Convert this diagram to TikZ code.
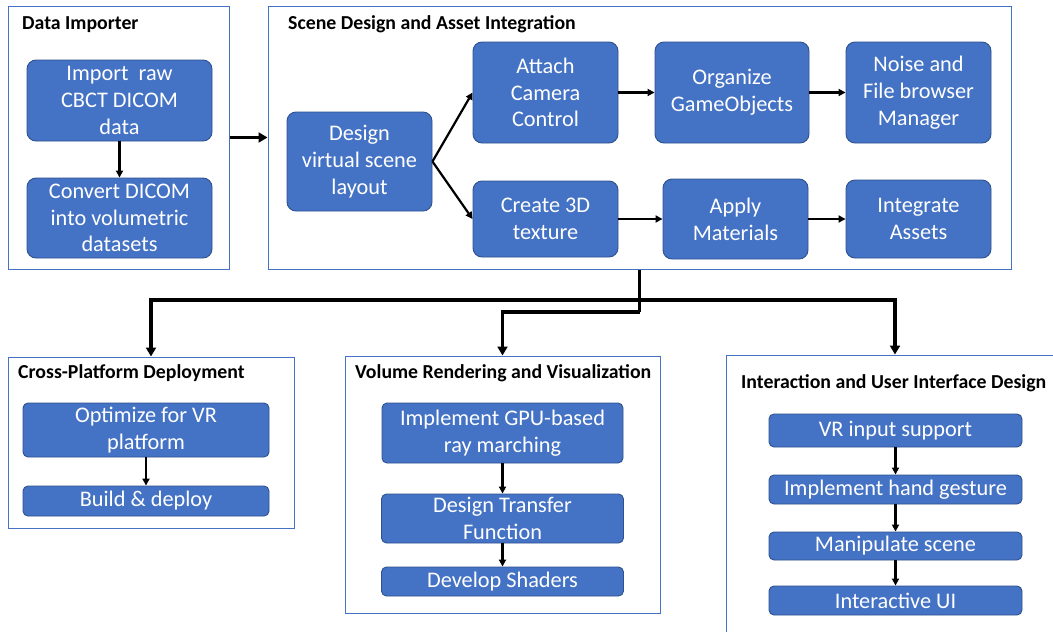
\documentclass[tikz,border=0pt]{standalone}
\usepackage{fontspec}
\setmainfont{Carlito}
\usetikzlibrary{arrows.meta}
\definecolor{boxblue}{HTML}{4472C4}
\definecolor{boxedge}{HTML}{2F528F}
\definecolor{paneledge}{HTML}{4472C4}
\tikzset{
  stepbox/.style={rectangle, rounded corners=9pt, fill=boxblue, draw=boxedge, line width=0.9pt,
    text=white, align=center, inner sep=0pt, font=\fontsize{22.3}{26.7}\selectfont},
  smallbox/.style={stepbox, rounded corners=5pt},
  panel/.style={rectangle, draw=paneledge, line width=1pt, fill=none, inner sep=0pt},
  ptitle/.style={anchor=base west, inner sep=0pt, font=\fontsize{19.8}{23}\selectfont\bfseries},
  arr/.style={line width=2.2pt, -{Triangle[length=7pt,width=7pt]}},
  bus/.style={line width=3.4pt},
  busarr/.style={bus, -{Triangle[length=9pt,width=10pt]}},
}
\begin{document}
\begin{tikzpicture}[x=1pt,y=-1pt]
\clip (0,0) rectangle (1053,632);
\fill[white] (0,0) rectangle (1053,632);

% panels
\node[panel, minimum width=221pt, minimum height=263pt] (pdi) at (118.5,137.5) {};
\node[panel, minimum width=743pt, minimum height=263pt] (psc) at (639.5,137.5) {};
\node[panel, minimum width=286pt, minimum height=171pt] (pcp) at (151,442.5) {};
\node[panel, minimum width=315pt, minimum height=257pt] (pvr) at (502.5,484.5) {};
\node[panel, minimum width=338pt, minimum height=295pt] (pui) at (895,502.5) {};

% titles
\node[ptitle] (tdi) at (22,29.5) {Data Importer};
\node[ptitle] (tsc) at (288,29.5) {Scene Design and Asset Integration};
\node[ptitle] (tcp) at (18,378.5) {Cross-Platform Deployment};
\node[ptitle] (tvr) at (355,378.5) {Volume Rendering and Visualization};
\node[ptitle] (tui) at (741,388.5) {Interaction and User Interface Design};

% Data importer
\node[stepbox, minimum width=185pt, minimum height=81pt] (imp) at (119.5,100.5) {Import\ \ raw\\CBCT DICOM\\data};
\node[stepbox, minimum width=185pt, minimum height=80pt] (conv) at (119.5,218) {Convert DICOM\\into volumetric\\datasets};

% Scene design
\node[stepbox, minimum width=145pt, minimum height=99pt] (design) at (359.5,161.5) {Design\\virtual scene\\layout};
\node[stepbox, minimum width=145pt, minimum height=101pt] (attach) at (545.5,92.5) {Attach\\Camera\\Control};
\node[stepbox, minimum width=154pt, minimum height=101pt] (organize) at (732,92.5) {Organize\\GameObjects};
\node[stepbox, minimum width=145pt, minimum height=101pt] (noise) at (918.5,92.5) {Noise and\\File browser\\Manager};
\node[stepbox, minimum width=145pt, minimum height=76pt] (create) at (545.5,219) {Create 3D\\texture};
\node[stepbox, minimum width=145pt, minimum height=80pt] (apply) at (735.5,219) {Apply\\Materials};
\node[stepbox, minimum width=145pt, minimum height=78pt] (integrate) at (918.5,219) {Integrate\\Assets};

% Cross-platform
\node[smallbox, minimum width=246pt, minimum height=54pt] (optimize) at (146,430) {Optimize for VR\\platform};
\node[smallbox, minimum width=246pt, minimum height=30pt] (build) at (146,501) {Build \& deploy};

% Volume rendering
\node[smallbox, minimum width=241pt, minimum height=60pt] (gpu) at (502.5,433) {Implement GPU-based\\ray marching};
\node[smallbox, minimum width=242pt, minimum height=49pt] (transfer) at (502.5,518.5) {Design Transfer\\Function};
\node[smallbox, minimum width=242pt, minimum height=29pt] (shaders) at (502.5,581.5) {Develop Shaders};

% Interaction
\node[smallbox, minimum width=253pt, minimum height=33pt] (vrin) at (895.5,430.5) {VR input support};
\node[smallbox, minimum width=253pt, minimum height=29pt] (hand) at (895.5,489.5) {Implement hand gesture};
\node[smallbox, minimum width=253pt, minimum height=28pt] (manip) at (895.5,546) {Manipulate scene};
\node[smallbox, minimum width=253pt, minimum height=29pt] (iui) at (895.5,600.5) {Interactive UI};

% connectors inside panels
\draw[arr] (imp) -- (conv);
\draw[arr] (design.east) -- (attach.west);
\draw[arr] (design.east) -- (create.west);
\draw[arr] (attach) -- (organize);
\draw[arr] (organize) -- (noise);
\draw[arr] (create) -- (apply);
\draw[arr] (apply) -- (integrate);
\draw[arr] (optimize) -- (build);
\draw[arr] (gpu) -- (transfer);
\draw[arr] (transfer) -- (shaders);
\draw[arr] (vrin) -- (hand);
\draw[arr] (hand) -- (manip);
\draw[arr] (manip) -- (iui);

% panel connectors
\draw[busarr] (pdi) -- (psc);
\coordinate (j1) at (639.5,300);
\coordinate (j2) at (639.5,312);
\draw[bus] (psc.south) -- (j2);
\draw[busarr] (j2) -| (pvr.north);
\draw[busarr] (j1) -| (pcp.north);
\draw[busarr] (j1) -| (pui.north);
\end{tikzpicture}
\end{document}
